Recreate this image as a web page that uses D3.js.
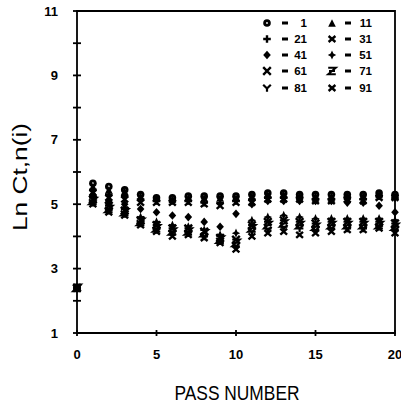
<!DOCTYPE html>
<html>
<head>
<meta charset="utf-8">
<script src="https://cdn.jsdelivr.net/npm/d3@7"></script>
<style>
  html, body { margin: 0; padding: 0; background: #fff; }
  svg { display: block; }
  .tick-label { font-family: "Liberation Sans Narrow", "Liberation Sans", Arial, sans-serif; font-weight: bold; font-size: 13px; fill: #000; }
  .legend-label { font-family: "Liberation Sans Narrow", "Liberation Sans", Arial, sans-serif; font-weight: bold; font-size: 11.5px; fill: #000; }
  .axis-title { font-family: "Liberation Sans Narrow", "Liberation Sans", Arial, sans-serif; font-size: 21px; fill: #000; }
</style>
</head>
<body>
<svg id="chart" width="401" height="406"></svg>
<script>
// Pass numbers along the x axis
const passes = d3.range(0, 21);

// Ln C for each tracked element, one array per element index
const seriesNames = ["1", "11", "21", "31", "41", "51", "61", "71", "81", "91"];
const s1  = [2.4, 5.65, 5.55, 5.45, 5.30, 5.20, 5.20, 5.25, 5.25, 5.25, 5.25, 5.30, 5.35, 5.35, 5.30, 5.30, 5.30, 5.30, 5.30, 5.35, 5.30];
const s11 = [2.4, 5.55, 5.45, 5.40, 5.25, 5.20, 5.15, 5.20, 5.20, 5.20, 5.20, 5.25, 5.30, 5.30, 5.25, 5.25, 5.25, 5.25, 5.25, 5.30, 5.25];
const s21 = [2.4, 5.45, 5.30, 5.25, 5.15, 5.10, 5.10, 5.10, 5.05, 5.05, 5.10, 5.15, 5.20, 5.20, 5.20, 5.15, 5.15, 5.20, 5.15, 5.25, 5.20];
const s31 = [2.4, 5.35, 5.20, 5.15, 5.05, 5.05, 5.05, 5.05, 5.00, 4.95, 5.05, 5.05, 5.15, 5.15, 5.15, 5.10, 5.10, 5.15, 5.10, 5.20, 5.20];
const s41 = [2.4, 5.30, 5.10, 5.00, 4.85, 4.75, 4.65, 4.60, 4.45, 4.30, 4.70, 5.00, 5.10, 5.10, 5.10, 5.10, 5.10, 5.05, 5.05, 4.95, 4.75];
const s51 = [2.4, 5.25, 5.00, 4.90, 4.60, 4.45, 4.35, 4.30, 4.20, 4.05, 4.10, 4.50, 4.60, 4.65, 4.60, 4.55, 4.55, 4.55, 4.55, 4.55, 4.50];
const s61 = [2.4, 5.15, 4.95, 4.80, 4.50, 4.35, 4.25, 4.25, 4.15, 3.95, 3.90, 4.35, 4.45, 4.50, 4.45, 4.40, 4.45, 4.45, 4.45, 4.45, 4.40];
const s71 = [2.4, 5.10, 4.85, 4.75, 4.45, 4.25, 4.15, 4.15, 4.10, 3.90, 3.80, 4.25, 4.35, 4.40, 4.35, 4.30, 4.35, 4.35, 4.35, 4.35, 4.30];
const s81 = [2.4, 5.05, 4.80, 4.70, 4.40, 4.20, 4.10, 4.10, 4.00, 3.85, 3.70, 4.15, 4.20, 4.25, 4.25, 4.20, 4.25, 4.25, 4.25, 4.30, 4.20];
const s91 = [2.4, 5.00, 4.75, 4.65, 4.35, 4.15, 4.00, 4.05, 3.95, 3.80, 3.60, 4.00, 4.10, 4.15, 4.05, 4.10, 4.15, 4.20, 4.20, 4.25, 4.10];
const seriesValues = [s1, s11, s21, s31, s41, s51, s61, s71, s81, s91];

const xTicks = [0, 5, 10, 15, 20];
const yTickLabels = [1, 3, 5, 7, 9, 11];
const yTicks = d3.range(1, 12);

const svg = d3.select("#chart");
const x = d3.scaleLinear().domain([0, 20]).range([77, 395]);
const y = d3.scaleLinear().domain([1, 11]).range([333, 11]);

// Marker glyphs, one per series
const markerKinds = ["circle", "triangle", "plus", "cross", "diamond", "star4", "bigcross", "zed", "why", "cross"];

function drawMarker(g, kind) {
  const k = 3.8;
  switch (kind) {
    case "circle":
      g.append("circle").attr("r", 3.8).attr("fill", "#000");
      g.append("circle").attr("r", 0.9).attr("fill", "#fff");
      break;
    case "triangle":
      g.append("path").attr("d", `M0,${-k} L${k},${k} L${-k},${k} Z`).attr("fill", "#000");
      break;
    case "plus":
      g.append("path").attr("d", `M${-k},0 H${k} M0,${-k} V${k}`).attr("stroke", "#000").attr("stroke-width", 2.4);
      break;
    case "cross":
      g.append("path").attr("d", `M${-k+0.4},${-k+0.8} L${k-0.4},${k-0.8} M${-k+0.4},${k-0.8} L${k-0.4},${-k+0.8}`).attr("stroke", "#000").attr("stroke-width", 2.4);
      break;
    case "bigcross":
      g.append("path").attr("d", `M${-k},${-k} L${k},${k} M${-k},${k} L${k},${-k}`).attr("stroke", "#000").attr("stroke-width", 2.4);
      break;
    case "diamond":
      g.append("path").attr("d", `M0,${-k-0.5} L${k},0 L0,${k+0.5} L${-k},0 Z`).attr("fill", "#000");
      break;
    case "star4":
      g.append("path").attr("d", `M0,${-k-0.8} L1.4,-1.4 L${k+0.4},0 L1.4,1.4 L0,${k+0.8} L-1.4,1.4 L${-k-0.4},0 L-1.4,-1.4 Z`).attr("fill", "#000");
      break;
    case "zed":
      g.append("path").attr("d", `M${-k},${-k+0.5} H${k} L${-k},${k-0.5} H${k} M${-k+0.8},0 H${k-0.8}`).attr("stroke", "#000").attr("stroke-width", 2).attr("fill", "none");
      break;
    case "why":
      g.append("path").attr("d", `M${-k},${-k+0.5} L0,0.5 L${k},${-k+0.5} M0,0.5 V${k}`).attr("stroke", "#000").attr("stroke-width", 2.2).attr("fill", "none");
      break;
  }
}

// Frame and axes
const frame = svg.append("g").attr("stroke", "#000").attr("fill", "none");
frame.append("path")
  .attr("d", `M${x(0)},${y(1)} V${y(11)} H${x(20)} V${y(1)} Z`)
  .attr("stroke-width", 1.8);

// y ticks cross the left axis at every integer
frame.selectAll(".ytick").data(yTicks).join("line")
  .attr("x1", x(0) - 4).attr("x2", x(0) + 4)
  .attr("y1", d => y(d)).attr("y2", d => y(d))
  .attr("stroke-width", 1.8);

// x ticks cross the bottom axis at every fifth pass
frame.selectAll(".xtick").data(xTicks).join("line")
  .attr("x1", d => x(d)).attr("x2", d => x(d))
  .attr("y1", y(1) - 3).attr("y2", y(1) + 3)
  .attr("stroke-width", 1.8);

svg.selectAll(".ylab").data(yTickLabels).join("text")
  .attr("class", "tick-label")
  .attr("x", 58).attr("y", d => y(d))
  .attr("dy", "0.36em")
  .attr("text-anchor", "end")
  .text(d => d);

svg.selectAll(".xlab").data(xTicks).join("text")
  .attr("class", "tick-label")
  .attr("x", d => x(d)).attr("y", 354)
  .attr("dy", "0.36em")
  .attr("text-anchor", "middle")
  .text(d => d);

// Axis titles
svg.append("text")
  .attr("class", "axis-title")
  .attr("x", 237).attr("y", 400)
  .attr("text-anchor", "middle")
  .attr("textLength", 125).attr("lengthAdjust", "spacingAndGlyphs")
  .text("PASS NUMBER");

svg.append("text")
  .attr("class", "axis-title")
  .attr("transform", `translate(27,${177}) rotate(-90)`)
  .attr("text-anchor", "middle")
  .attr("textLength", 108).attr("lengthAdjust", "spacingAndGlyphs")
  .text("Ln Ct,n(i)");

// Data markers
seriesValues.forEach((vals, si) => {
  const g = svg.append("g");
  vals.forEach((v, i) => {
    const m = g.append("g").attr("transform", `translate(${x(passes[i])},${y(v)})`);
    drawMarker(m, markerKinds[si]);
  });
});

// Legend: two columns of five entries
const legendRows = [23, 39, 55, 71, 88];
const legendCols = [{ mark: 267, dash: 285, text: 307 }, { mark: 332, dash: 348, text: 372 }];
seriesNames.forEach((name, i) => {
  const col = legendCols[i % 2];
  const row = legendRows[Math.floor(i / 2)];
  const m = svg.append("g").attr("transform", `translate(${col.mark},${row})`);
  drawMarker(m, markerKinds[i]);
  svg.append("rect").attr("x", col.dash - 3).attr("y", row - 1.5).attr("width", 6).attr("height", 3).attr("fill", "#000");
  svg.append("text").attr("class", "legend-label")
    .attr("x", col.text).attr("y", row).attr("dy", "0.36em")
    .attr("text-anchor", "end")
    .text(name);
});
</script>
</body>
</html>
